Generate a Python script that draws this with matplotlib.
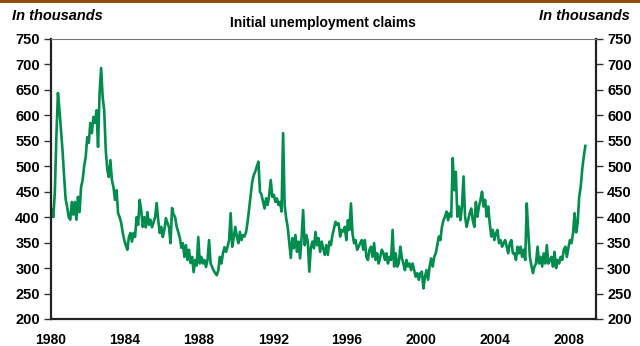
import numpy as np
import matplotlib
matplotlib.use("Agg")
import matplotlib.pyplot as plt

plt.rcParams['font.family'] = ['Liberation Sans', 'DejaVu Sans']

# Initial unemployment claims, thousands, monthly readings Jan 1980 - Nov 2008
claims_by_year = {
    1980: [415, 400, 450, 560, 644, 610, 570, 530, 480, 435, 420, 400],
    1981: [395, 430, 405, 430, 395, 440, 410, 459, 473, 500, 518, 557],
    1982: [546, 585, 565, 597, 585, 610, 538, 644, 693, 636, 610, 532],
    1983: [493, 479, 512, 473, 459, 434, 453, 408, 400, 389, 370, 355],
    1984: [345, 336, 361, 369, 352, 369, 361, 400, 385, 434, 414, 381],
    1985: [400, 380, 410, 385, 395, 380, 390, 400, 428, 395, 369, 381],
    1986: [361, 375, 398, 389, 380, 349, 418, 405, 400, 381, 371, 360],
    1987: [340, 349, 322, 345, 316, 336, 310, 322, 292, 316, 305, 361],
    1988: [309, 322, 309, 316, 302, 316, 355, 309, 302, 295, 290, 286],
    1989: [296, 322, 309, 329, 341, 332, 342, 355, 408, 342, 360, 381],
    1990: [362, 349, 371, 355, 365, 362, 371, 391, 417, 444, 470, 483],
    1991: [490, 500, 509, 450, 444, 430, 417, 437, 424, 444, 473, 440],
    1992: [444, 430, 437, 424, 430, 411, 565, 424, 398, 380, 350, 320],
    1993: [359, 339, 365, 332, 352, 319, 360, 414, 345, 365, 352, 293],
    1994: [340, 352, 339, 371, 345, 359, 332, 352, 339, 326, 345, 326],
    1995: [352, 345, 365, 378, 391, 385, 388, 362, 375, 372, 381, 355],
    1996: [394, 375, 427, 368, 349, 355, 336, 342, 349, 355, 336, 355],
    1997: [322, 316, 336, 342, 322, 349, 316, 329, 309, 322, 336, 330],
    1998: [316, 329, 309, 322, 316, 375, 303, 329, 303, 309, 342, 320],
    1999: [309, 296, 316, 303, 309, 296, 309, 296, 283, 290, 277, 290],
    2000: [293, 260, 283, 296, 277, 303, 319, 303, 322, 329, 345, 362],
    2001: [355, 381, 394, 401, 411, 394, 408, 401, 516, 453, 489, 401],
    2002: [421, 394, 421, 480, 401, 381, 394, 408, 417, 394, 381, 430],
    2003: [401, 421, 434, 450, 421, 434, 401, 421, 388, 362, 375, 355],
    2004: [368, 375, 349, 355, 342, 349, 355, 342, 329, 349, 355, 329],
    2005: [329, 316, 342, 329, 342, 322, 336, 316, 427, 370, 322, 305],
    2006: [290, 303, 309, 342, 309, 322, 303, 329, 309, 345, 309, 315],
    2007: [322, 303, 332, 300, 316, 309, 322, 316, 336, 342, 322, 340],
    2008: [355, 349, 368, 408, 370, 388, 440, 460, 495, 520, 540],
}

years = []
claims = []
for yr, vals in claims_by_year.items():
    for m, v in enumerate(vals):
        years.append(yr + (m + 0.5) / 12)
        claims.append(v)

x_ticks = [1980, 1984, 1988, 1992, 1996, 2000, 2004, 2008]
y_ticks = list(range(200, 751, 50))

fig = plt.figure(figsize=(6.4, 3.46), dpi=100)
ax = fig.add_axes([51 / 640, 1 - 319 / 346, 545 / 640, 280 / 346])

ax.plot(years, claims, color='#008C4E', lw=1.9, solid_joinstyle='round')

ax.set_xlim(1980, 2009.45)
ax.set_ylim(200, 750)
ax.set_xticks(x_ticks)
ax.set_yticks(y_ticks)

for side in ('left', 'right', 'bottom'):
    ax.spines[side].set_color('#222222')
    ax.spines[side].set_linewidth(1.6)
ax.spines['top'].set_color('#777777')
ax.spines['top'].set_linewidth(0.8)

ax.tick_params(axis='y', which='both', left=True, right=True, labelleft=True,
               labelright=True, direction='out', length=5, width=1,
               color='#333333', labelsize=10.5, pad=3)
ax.tick_params(axis='x', length=0, labelsize=10, pad=10)
for lbl in ax.get_xticklabels():
    lbl.set_fontweight('bold')
for t in ax.yaxis.get_major_ticks():
    t.label1.set_fontweight('bold')
    t.label2.set_fontweight('bold')

fig.text(12 / 640, 1 - 16 / 346, 'In thousands', ha='left', va='center',
         fontsize=10.5, fontweight='bold', fontstyle='italic')
fig.text(630 / 640, 1 - 16 / 346, 'In thousands', ha='right', va='center',
         fontsize=10.5, fontweight='bold', fontstyle='italic')
fig.text(323 / 640, 1 - 23 / 346, 'Initial unemployment claims', ha='center',
         va='center', fontsize=10, fontweight='bold')

# brown band across the top edge
fig.add_artist(plt.Rectangle((0, 1 - 3 / 346), 1, 3 / 346,
                             transform=fig.transFigure, color='#8C4A0C', lw=0))

fig.savefig('out.png', dpi=100)
